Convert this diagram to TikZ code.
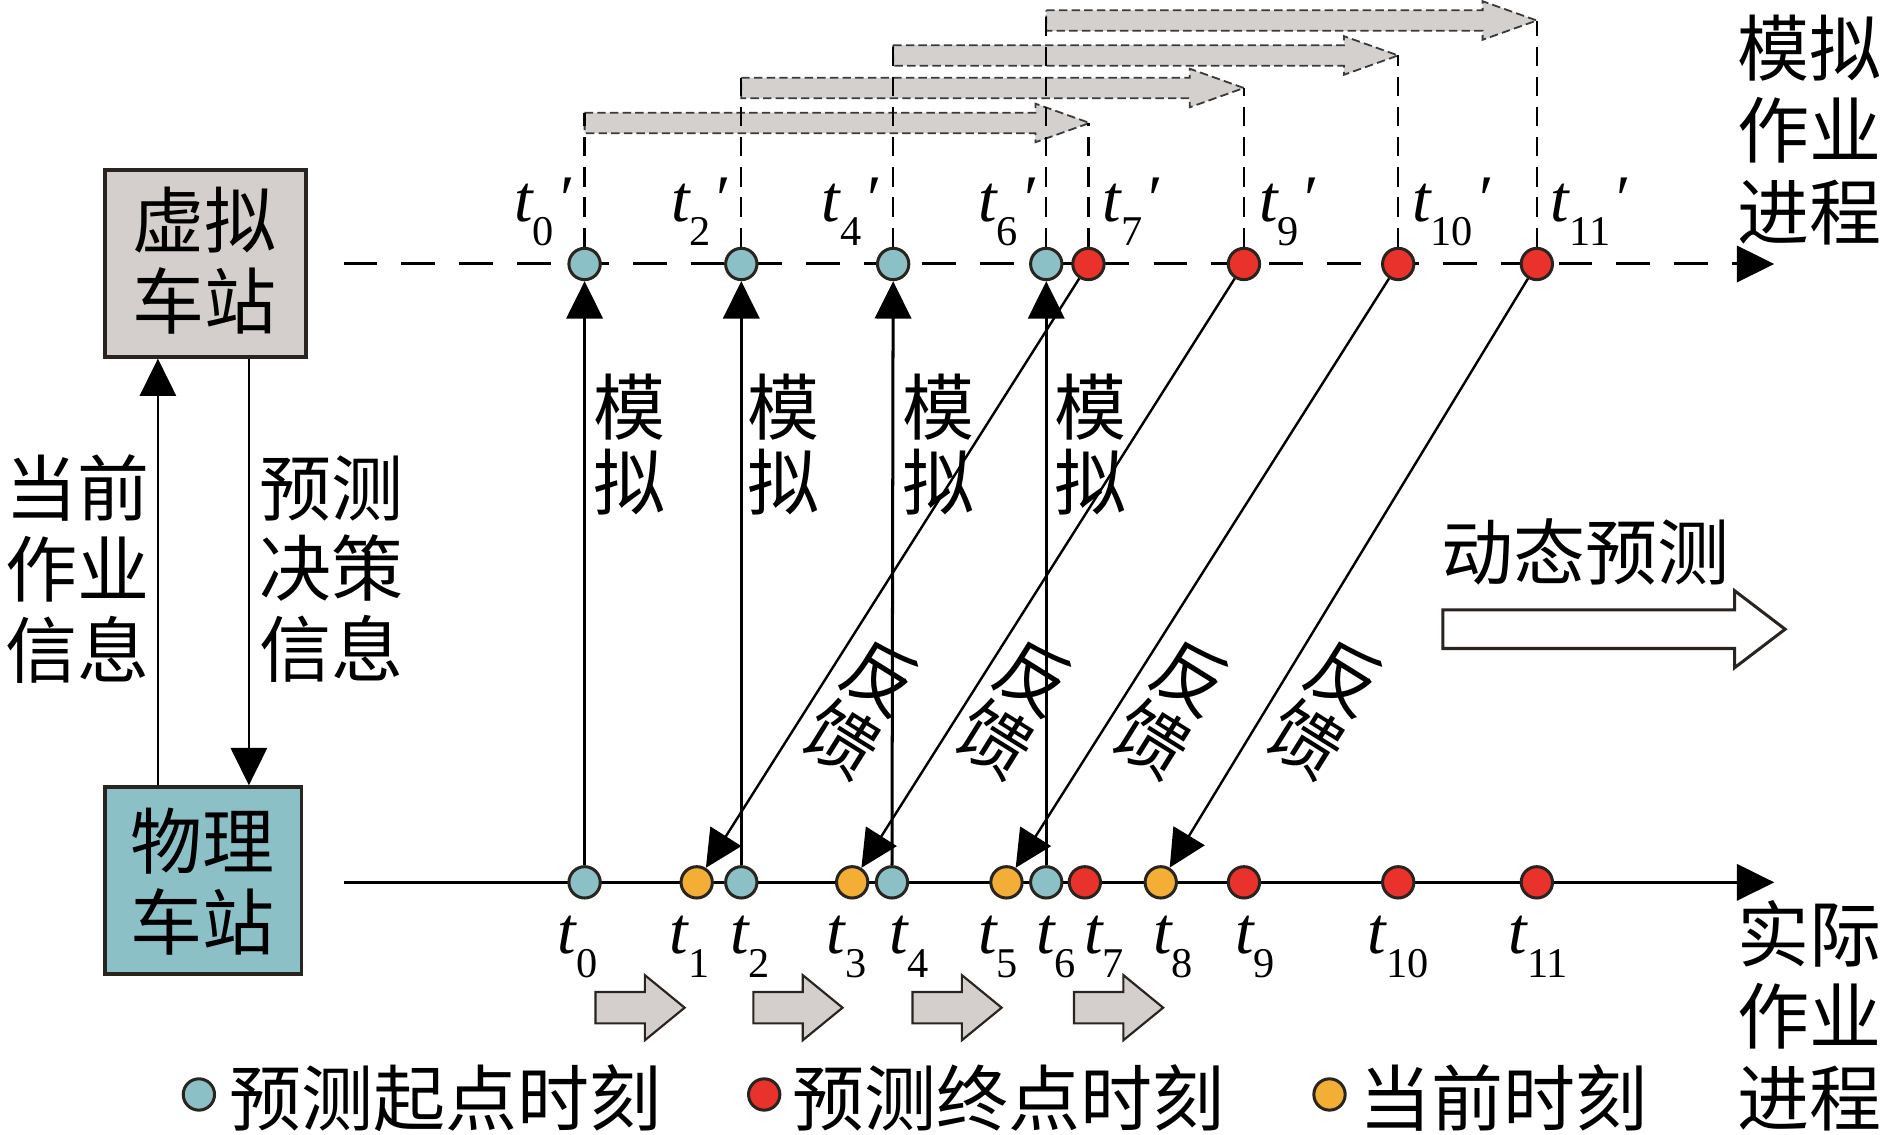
\documentclass[tikz,border=0pt]{standalone}
\usepackage{fontspec}
\setmainfont{Liberation Serif}
\newfontfamily\cjk{Noto Sans CJK SC}
\usetikzlibrary{arrows.meta}
\definecolor{tealc}{HTML}{8CC0C7}
\definecolor{redc}{HTML}{E8322B}
\definecolor{orac}{HTML}{F2AE35}
\definecolor{dk}{HTML}{2A2420}
\definecolor{boxg}{HTML}{D4CFCD}
\definecolor{bandg}{HTML}{D3D0CE}
\definecolor{bandline}{HTML}{3A3A3A}
\newcommand\tlab[2]{{\fontsize{15.7pt}{15.7pt}\selectfont\itshape t}\raisebox{-2.0mm}{\fontsize{10pt}{10pt}\selectfont #1}#2}
\newcommand\primemark{\kern0.5mm{\fontsize{15.7pt}{15.7pt}\selectfont ′}}
\pgfdeclarelayer{bg}
\pgfsetlayers{bg,main}
\begin{document}
\begin{tikzpicture}[x=0.1mm,y=-0.1mm,
  >={Triangle[width=3mm,length=3.1mm]},
  tnode/.style={circle, draw=dk, line width=0.25mm, minimum size=2.6mm, inner sep=0pt},
  cj/.style={font=\fontsize{17pt}{19.07pt}\selectfont\cjk, align=center, inner sep=0pt},
  cjm/.style={font=\fontsize{17pt}{17.64pt}\selectfont\cjk, align=center, inner sep=0pt},
  cjr/.style={font=\fontsize{17pt}{19.35pt}\selectfont\cjk, align=center, inner sep=0pt},
  cjf/.style={font=\fontsize{17pt}{17.2pt}\selectfont\cjk, inner sep=0pt, rotate=-32},
  tl/.style={anchor=base west, inner sep=0pt},
  axisline/.style={line width=0.25mm, ->},
  conn/.style={line width=0.25mm, ->},
  fb/.style={line width=0.2mm, ->},
  band/.style={fill=bandg, draw=bandline, line width=0.15mm, dash pattern=on 0.7mm off 0.35mm},
  vdash/.style={line width=0.19mm, dash pattern=on 1.6mm off 0.9mm},
  blockg/.style={fill=boxg, draw=dk, line width=0.18mm},
  blockw/.style={fill=white, draw=dk, line width=0.25mm},
  stationbox/.style={draw=dk, line width=0.3mm, minimum width=16.7mm, inner sep=0pt}
]
\useasboundingbox (0,0) rectangle (1568,940.8);

% stations
\node[stationbox, fill=boxg, minimum height=15.5mm] (virt) at (170.5,218.5) {};
\node[stationbox, fill=tealc, minimum width=16.3mm, minimum height=15.5mm] (phys) at (168.5,730.5) {};
\node[cj] at (170,216.5) {虚拟\\车站};
\node[cj] at (168,731.5) {物理\\车站};

% virtual-process nodes
\foreach \n/\x/\c in {0/485/tealc, 2/615/tealc, 4/741/tealc, 6/868/tealc, 7/903/redc, 9/1032/redc, 10/1160/redc, 11/1275/redc}
  \node[tnode, fill=\c] (v\n) at (\x,219) {};
% physical-process nodes
\foreach \n/\x/\c in {0/485/tealc, 1/578/orac, 2/615/tealc, 3/707/orac, 4/740/tealc, 5/835/orac, 6/868/tealc, 7/900/redc, 8/963/orac, 9/1032/redc, 10/1160/redc, 11/1275/redc}
  \node[tnode, fill=\c] (p\n) at (\x,732) {};

\coordinate (va) at (285,219);
\coordinate (vb) at (1472,219);
\coordinate (pa) at (285,732);
\coordinate (pb) at (1472,732);

\begin{pgfonlayer}{bg}
  % simulation bands
  \foreach \xs/\xt/\yc in {485/904/102, 615/1032/73, 741/1160/46, 868/1275/17}
    \draw[band] (\xs,\yc-8.5) -- (\xt-45,\yc-8.5) -- (\xt-45,\yc-16) -- (\xt,\yc) -- (\xt-45,\yc+16) -- (\xt-45,\yc+8.5) -- (\xs,\yc+8.5) -- cycle;
  % dashed guides
  \draw[vdash] (v0) -- (v0 |- 0,93.5);
  \draw[vdash] (v2) -- (v2 |- 0,64.5);
  \draw[vdash] (v4) -- (v4 |- 0,37.5);
  \draw[vdash] (v6) -- (v6 |- 0,8.5);
  \draw[vdash] (v7) -- (v7 |- 0,102);
  \draw[vdash] (v9) -- (v9 |- 0,73);
  \draw[vdash] (v10) -- (v10 |- 0,46);
  \draw[vdash] (v11) -- (v11 |- 0,17);
  % axes
  \draw[axisline, dash pattern=on 2.8mm off 2mm] (va) -- (vb);
  \draw[axisline] (pa) -- (pb);
\end{pgfonlayer}

% station links
\draw[line width=0.22mm, ->] (phys.north -| 131,0) -- (virt.south -| 131,0);
\draw[line width=0.22mm, ->] (virt.south -| 206.5,0) -- (phys.north -| 206.5,0);
\node[cj] at (64,472) {当前\\作业\\信息};
\node[cj] at (275,472) {预测\\决策\\信息};

% simulation arrows
\foreach \n in {0,2,4,6} \draw[conn] (p\n) -- (v\n);
\foreach \x in {522,650,779,905} \node[cjm] at (\x,369) {模\\拟};

% feedback arrows
\draw[fb] (v7) -- (p1);
\draw[fb] (v9) -- (p3);
\draw[fb] (v10) -- (p5);
\draw[fb] (v11) -- (p8);
\foreach \x in {715,842,972,1100} {
  \node[cjf] at (\x+16,562.4) {反};
  \node[cjf] at (\x-16,613.6) {馈};
}

% time labels (virtual)
\node[tl] at (426,184) {\tlab{0}{\primemark}};
\node[tl] at (556,184) {\tlab{2}{\primemark}};
\node[tl] at (681,184) {\tlab{4}{\primemark}};
\node[tl] at (811,184) {\tlab{6}{\primemark}};
\node[tl] at (914,184) {\tlab{7}{\primemark}};
\node[tl] at (1044,184) {\tlab{9}{\primemark}};
\node[tl] at (1171,184) {\tlab{10}{\primemark}};
\node[tl] at (1286,184) {\tlab{11}{\primemark}};
% time labels (physical)
\foreach \k/\x in {0/462,1/555,2/605,3/685,4/737,5/811,6/859,7/899,8/956,9/1024,10/1134,11/1251}
  \node[tl] at (\x,791) {\tlab{\k}{}};

% progress block arrows
\foreach \xs in {494,625,757,891}
  \draw[blockg] (\xs,823) -- (\xs+41,823) -- (\xs+41,809) -- (\xs+74,836) -- (\xs+41,863) -- (\xs+41,849) -- (\xs,849) -- cycle;

% dynamic prediction
\node[cj] at (1315,458) {动态预测};
\draw[blockw] (1197,506) -- (1439,506) -- (1439,490) -- (1481,522) -- (1439,554) -- (1439,538) -- (1197,538) -- cycle;

% process labels
\node[cjr] at (1501,108) {模拟\\作业\\进程};
\node[cjr] at (1501,843) {实际\\作业\\进程};

% legend
\node[tnode, fill=tealc] (lg1) at (165,908) {};
\node[cj, anchor=west] at (190,911) {预测起点时刻};
\node[tnode, fill=redc] (lg2) at (634,908) {};
\node[cj, anchor=west] at (657,911) {预测终点时刻};
\node[tnode, fill=orac] (lg3) at (1103,908) {};
\node[cj, anchor=west] at (1127,911) {当前时刻};
\end{tikzpicture}
\end{document}
